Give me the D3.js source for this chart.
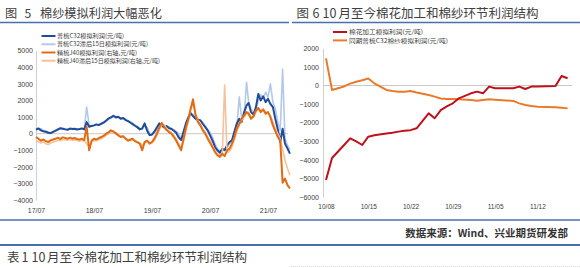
<!DOCTYPE html>
<html><head><meta charset="utf-8">
<script src="https://cdn.jsdelivr.net/npm/d3@7"></script>
<style>
html,body{margin:0;padding:0;background:#fff;}
svg{display:block;font-family:"Noto Sans CJK SC","Noto Sans",sans-serif;}
</style></head><body>
<svg id="c" width="580" height="268"></svg>
<script>
// ---------- Figure 5 data: semi-monthly samples (1st & 16th) from 2017-07 ----------
const leftStartYear = 2017, leftStartMonth = 7;
const c32 = [
  250, 320, 200, 150, 120, 60, 40, 110,
  180, 260, 330, 300, 260, 240, 310, 280,
  300, 250, 280, 320, 260, 700, 420, 460,
  500, 560, 520, 600, 680, 800, 920, 980,
  1080, 980, 1020, 900, 950, 820, 760, 660,
  580, 480, 380, 260, 320, 620, 180, -80,
  -60, 120, 380, 620, 480, 380, 460, 340,
  280, 180, 60, -220, -380, 120, 650, 1000,
  1240, 1050, 900, 850, 800, 600, 400, 200,
  -100, -400, -800, -1000, -1150, -900, -1000, -700,
  -500, -400, 100, 600, 900, 700, 1300, 1700,
  1850, 1300, 1150, 1600, 2400, 2000, 2250, 1900,
  2100, 1800, 1600, 900, 250, -500, 300, -600,
  -900, -1200
];
const c32Lag = [
  200, 280, 300, 180, 140, 100, 50, 80,
  140, 220, 300, 320, 290, 260, 280, 300,
  290, 280, 260, 300, 290, 1600, 520, 450,
  480, 520, 540, 580, 640, 740, 860, 940,
  1000, 1040, 960, 960, 900, 880, 780, 700,
  640, 520, 440, 320, 260, 480, 380, 40,
  -40, 20, 260, 520, 560, 440, 400, 420,
  320, 240, 120, 0, -300, -120, 320, 820,
  1120, 1180, 980, 880, 820, 680, 460, 260,
  80, -200, -600, -900, -1050, -1000, -950, -850,
  -600, -480, -150, 300, 2230, 900, 1100, 3100,
  1900, 1500, 1250, 1450, 2000, 2350, 2150, 2500,
  2200, 3000, 1900, 1500, 700, 200, 3900, -300,
  -700, -1000
];
const j40 = [
  -200, -300, -420, -350, -450, -500, -400, -350,
  -300, -250, -320, -220, -260, -300, -240, -300,
  -260, -320, -350, -300, -380, 420, -1000, -420,
  -300, -350, -260, -200, -120, 0, 80, 200,
  120, 20, -100, -200, -150, -300, -420, -350,
  -300, -450, -520, -600, -1000, -500, -420, -600,
  -500, -300, 0, 350, 650, 420, 220, 100,
  0, -200, -420, -700, -1000, -300, 400, 900,
  1500, 2070, 1100, 700, 500, 200, 0, -300,
  -550, -800, -1100, -1300, -1400, -1200, -1350, -1000,
  -900, -600, -200, 300, 600, 900, 1100, 1300,
  1200, 900, 1050, 1400, 1550, 1300, 1450, 1200,
  1300, 1000, 500, 150, -200, -400, -2950, -2700,
  -3100, -3300
];
const j40Lag = [
  -400, -500, -560, -500, -600, -650, -560, -500,
  -450, -400, -420, -350, -360, -400, -350, -400,
  -360, -400, -450, -400, -450, -600, -800, -500,
  -400, -420, -360, -300, -200, -100, 0, 100,
  150, 60, -50, -150, -160, -250, -350, -420,
  -360, -420, -500, -560, -720, -600, -460, -520,
  -560, -420, -120, 220, 520, 520, 320, 160,
  60, -100, -300, -600, -900, -500, 200, 800,
  1500, 1800, 1200, 820, 600, 300, 100, -200,
  -400, -700, -1000, -1200, -1300, -1300, 2930, -1150,
  -1050, -800, -400, 100, 500, 800, 1000, 1200,
  1300, 1000, 1000, 1300, 1500, 1400, 1500, 1300,
  1300, 1100, 700, 300, 0, -300, -900, -1600,
  -2100, -2500
];
const leftYTicks = [5000, 4000, 3000, 2000, 1000, 0, -1000, -2000, -3000, -4000];
const leftXTicks = ["2017-07-01", "2018-07-01", "2019-07-01", "2020-07-01", "2021-07-01"];
const leftLegend = ["普梳C32模拟利润(元/吨)", "普梳C32滞后15日模拟利润(元/吨)", "精梳J40模拟利润(右轴,元/吨)", "精梳J40滞后15日模拟利润(右轴,元/吨)"];

// ---------- Figure 6 data ----------
const rightDates = ["2021-10-08","2021-10-09","2021-10-11","2021-10-12","2021-10-13","2021-10-14","2021-10-15","2021-10-16",
  "2021-10-18","2021-10-19","2021-10-20","2021-10-21","2021-10-22","2021-10-23","2021-10-25","2021-10-26",
  "2021-10-27","2021-10-28","2021-10-29","2021-10-30","2021-11-01","2021-11-02","2021-11-03","2021-11-04",
  "2021-11-05","2021-11-08","2021-11-09","2021-11-10","2021-11-11","2021-11-12","2021-11-15","2021-11-16","2021-11-17"];
const ginProfit = [-5080, -3900, -3200, -2840, -3000, -3200, -2750, -2680,
  -2580, -2540, -2480, -2430, -2400, -2300, -1500, -1760,
  -1320, -1120, -960, -690, -420, -330, -420, -60,
  -150, -150, -60, -190, -60, -50, -30, 510, 390];
const yarnProfit = [1460, -240, -50, 100, 200, 280, 380, 120,
  -240, -300, -330, -330, -300, -380, -510, -600,
  -700, -730, -730, -740, -780, -820, -780, -740,
  -760, -830, -960, -1050, -1100, -1140, -1170, -1200, -1230];
const rightYTicks = [2000, 1000, 0, -1000, -2000, -3000, -4000, -5000, -6000];
const rightXTicks = ["2021-10-08", "2021-10-15", "2021-10-22", "2021-10-29", "2021-11-05", "2021-11-12"];
const rightLegend = ["棉花加工模拟利润(元/吨)", "同期普梳C32棉纱模拟利润(元/吨)"];

// ---------- drawing ----------
const svg = d3.select("#c");
const parse = d3.timeParse("%Y-%m-%d");
const BLUE_RULE = "#4a6fae";
const TXT = "#404040";

function spacedTitle(parts, y, size) {
  const t = svg.append("text").attr("y", y).attr("font-size", size).attr("fill", TXT);
  parts.forEach(p => t.append("tspan").attr("x", p[0]).text(p[1]));
}
// titles
spacedTitle([[5, "图"], [24.5, "5"], [40, "棉纱模拟利润大幅恶化"]], 17.5, 12.2);
spacedTitle([[296.5, "图"], [312.5, "6"], [322.5, "10"], [338.5, "月至今棉花加工和棉纱环节利润结构"]], 17.5, 12.5);
svg.append("line").attr("x1", 0).attr("x2", 289).attr("y1", 22.5).attr("y2", 22.5).attr("stroke", BLUE_RULE).attr("stroke-width", 1.5);
svg.append("line").attr("x1", 292).attr("x2", 580).attr("y1", 22.5).attr("y2", 22.5).attr("stroke", BLUE_RULE).attr("stroke-width", 1.5);

// ----- left chart -----
const leftDates = c32.map((_, i) => new Date(leftStartYear, leftStartMonth - 1 + Math.floor(i / 2), i % 2 ? 16 : 1));
const xL = d3.scaleTime().domain([parse("2017-07-01"), parse("2021-07-01")]).range([36, 268]);
const yL = d3.scaleLinear().domain([-4000, 5000]).range([200.1, 50.7]);

const gL = svg.append("g");
const yAxL = gL.append("g").attr("transform", "translate(36,0)")
  .call(d3.axisLeft(yL).tickValues(leftYTicks).tickSize(0).tickPadding(3).tickFormat(d3.format("d")));
yAxL.select(".domain").attr("stroke", "#d0d0d0");
yAxL.selectAll("text").attr("font-size", 7).attr("fill", TXT).attr("font-family", "Liberation Sans, Arial, sans-serif");

const xAxL = gL.append("g").attr("transform", "translate(0,200.1)")
  .call(d3.axisBottom(xL).tickValues(leftXTicks.map(parse)).tickSize(0).tickPadding(8).tickFormat(d3.timeFormat("%y/%m")));
xAxL.select(".domain").remove();
xAxL.selectAll("text").attr("font-size", 7).attr("fill", TXT).attr("font-family", "Liberation Sans, Arial, sans-serif");

gL.append("line").attr("x1", 36).attr("x2", 288).attr("y1", yL(0)).attr("y2", yL(0)).attr("stroke", "#c8c8c8").attr("stroke-width", 1);

const leftSeries = [
  {vals: c32Lag, color: "#b3c8ea", w: 1.6},
  {vals: c32, color: "#1f4b9a", w: 2},
  {vals: j40Lag, color: "#f6c19b", w: 1.6},
  {vals: j40, color: "#e36c12", w: 2}
];
const lineL = d3.line().x((d, i) => xL(leftDates[i])).y(d => yL(d));
leftSeries.forEach(s => {
  gL.append("path").datum(s.vals).attr("d", lineL).attr("fill", "none")
    .attr("stroke", s.color).attr("stroke-width", s.w).attr("stroke-linejoin", "round");
});

const legColorsL = ["#1f4b9a", "#b3c8ea", "#e36c12", "#f6c19b"];
const legY = [36, 44.3, 52.5, 60.7];
const legWL = [67, 91, 80, 103];
leftLegend.forEach((t, i) => {
  gL.append("line").attr("x1", 41.5).attr("x2", 55.5).attr("y1", legY[i]).attr("y2", legY[i])
    .attr("stroke", legColorsL[i]).attr("stroke-width", 2);
  gL.append("text").attr("x", 57).attr("y", legY[i]).attr("dy", "0.35em").attr("font-size", 6)
    .attr("textLength", legWL[i]).attr("lengthAdjust", "spacingAndGlyphs").attr("fill", TXT).text(t);
});

// ----- right chart -----
const xR = d3.scaleTime().domain([parse("2021-10-08"), parse("2021-11-17")]).range([326, 567.6]);
const yR = d3.scaleLinear().domain([-6000, 2000]).range([197.1, 48.3]);
const gR = svg.append("g");
const yAxR = gR.append("g").attr("transform", "translate(323,0)")
  .call(d3.axisLeft(yR).tickValues(rightYTicks).tickSize(0).tickPadding(4).tickFormat(d3.format("d")));
yAxR.select(".domain").attr("stroke", "#d0d0d0");
yAxR.selectAll("text").attr("font-size", 7).attr("fill", TXT).attr("font-family", "Liberation Sans, Arial, sans-serif");

const xAxR = gR.append("g").attr("transform", "translate(0,197.1)")
  .call(d3.axisBottom(xR).tickValues(rightXTicks.map(parse)).tickSize(0).tickPadding(7.5).tickFormat(d3.timeFormat("%m/%d")));
xAxR.select(".domain").remove();
xAxR.selectAll("text").attr("font-size", 6.5).attr("fill", TXT).attr("font-family", "Liberation Sans, Arial, sans-serif");

gR.append("line").attr("x1", 323).attr("x2", 572).attr("y1", yR(0)).attr("y2", yR(0)).attr("stroke", "#c8c8c8").attr("stroke-width", 1);

const rDates = rightDates.map(parse);
const lineR = d3.line().x((d, i) => xR(rDates[i])).y(d => yR(d));
const rightSeries = [
  {vals: yarnProfit, color: "#ea7a2a"},
  {vals: ginProfit, color: "#c0101c"}
];
rightSeries.forEach(s => {
  gR.append("path").datum(s.vals).attr("d", lineR).attr("fill", "none")
    .attr("stroke", s.color).attr("stroke-width", 2).attr("stroke-linejoin", "round");
});
const legColorsR = ["#c0101c", "#ea7a2a"];
const legYR = [32, 40.4];
const legWR = [74, 99];
rightLegend.forEach((t, i) => {
  gR.append("line").attr("x1", 333).attr("x2", 347).attr("y1", legYR[i]).attr("y2", legYR[i])
    .attr("stroke", legColorsR[i]).attr("stroke-width", 2);
  gR.append("text").attr("x", 349).attr("y", legYR[i]).attr("dy", "0.35em").attr("font-size", 6)
    .attr("textLength", legWR[i]).attr("lengthAdjust", "spacingAndGlyphs").attr("fill", TXT).text(t);
});

// ----- footer -----
svg.append("line").attr("x1", 0).attr("x2", 580).attr("y1", 220).attr("y2", 220).attr("stroke", BLUE_RULE).attr("stroke-width", 1.5);
svg.append("text").attr("x", 568).attr("y", 237).attr("text-anchor", "end").attr("font-size", 10.5)
  .attr("font-weight", "bold").attr("fill", "#333").text("数据来源：Wind、兴业期货研发部");
svg.append("line").attr("x1", 0).attr("x2", 580).attr("y1", 245).attr("y2", 245).attr("stroke", BLUE_RULE).attr("stroke-width", 2);
spacedTitle([[7, "表"], [21.5, "1"], [31.5, "10"], [47, "月至今棉花加工和棉纱环节利润结构"]], 262, 12.5);
svg.append("line").attr("x1", 291).attr("x2", 580).attr("y1", 266.5).attr("y2", 266.5).attr("stroke", "#dddddd").attr("stroke-dasharray", "1,1");
</script>
</body></html>
